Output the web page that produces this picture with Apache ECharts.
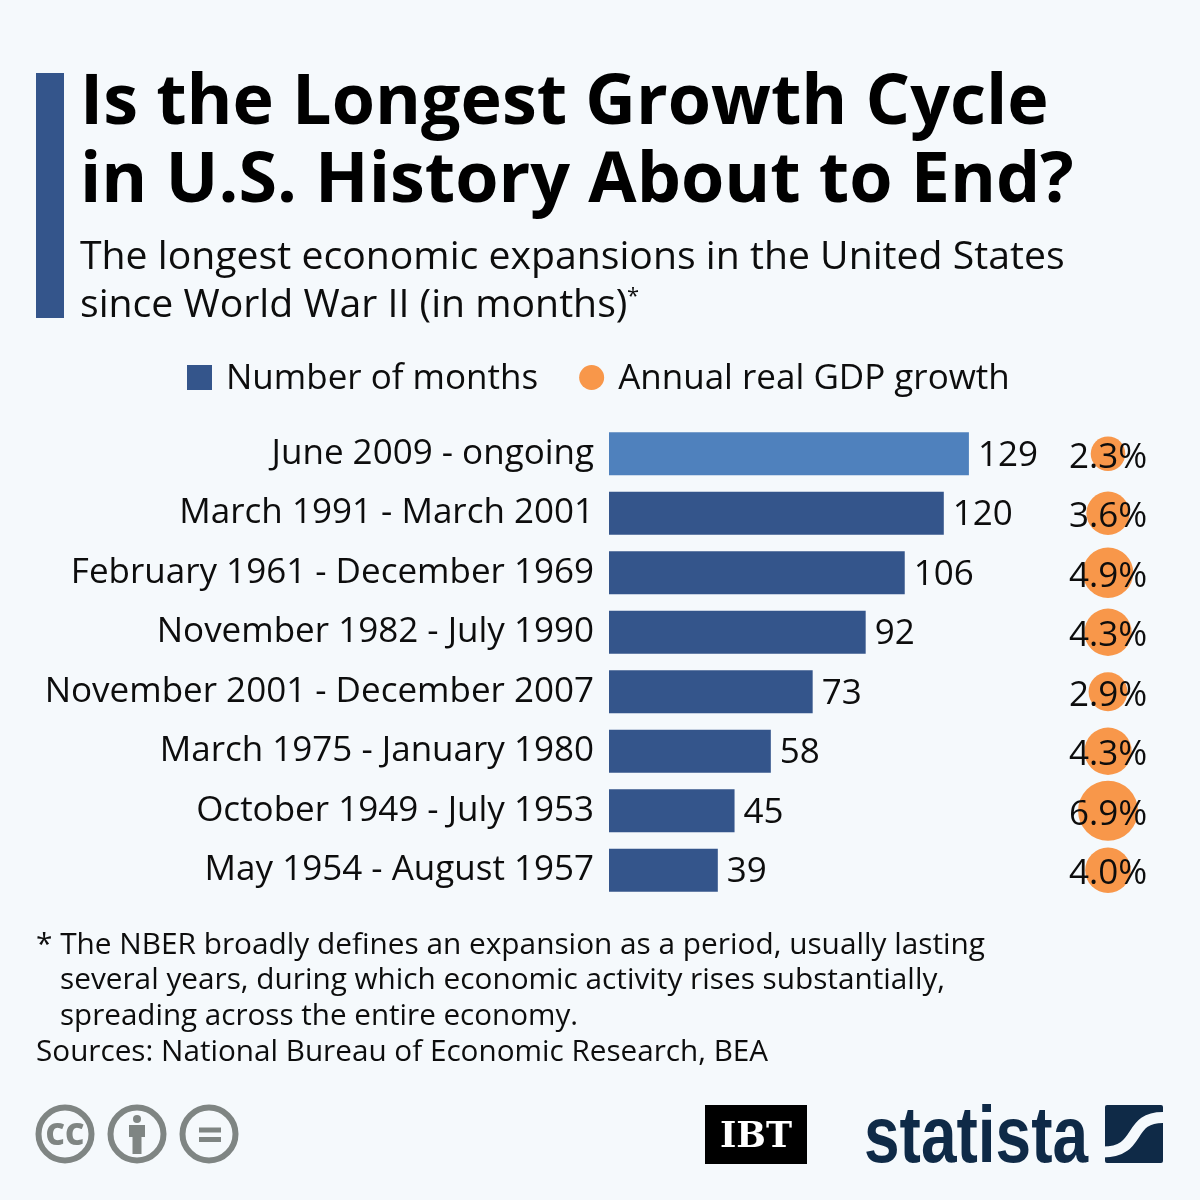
<!DOCTYPE html>
<html><head><meta charset="utf-8">
<style>html,body{margin:0;padding:0;background:#f5f9fc}#c{width:1200px;height:1200px}</style>
<script src="https://cdn.jsdelivr.net/npm/echarts@6/dist/echarts.min.js"></script>
</head><body><div id="c"></div>
<script>
const periods = ["June 2009 - ongoing","March 1991 - March 2001","February 1961 - December 1969","November 1982 - July 1990","November 2001 - December 2007","March 1975 - January 1980","October 1949 - July 1953","May 1954 - August 1957"];
const months = [129,120,106,92,73,58,45,39];
const gdpGrowth = [2.3,3.6,4.9,4.3,2.9,4.3,6.9,4.0];
const titleLines = ["Is the Longest Growth Cycle","in U.S. History About to End?"];
const subtitleLines = ["The longest economic expansions in the United States","since World War II (in months)"];
const footLines = ["* The NBER broadly defines an expansion as a period, usually lasting","several years, during which economic activity rises substantially,","spreading across the entire economy.","Sources: National Bureau of Economic Research, BEA"];
const seriesNames = ["Number of months","Annual real GDP growth"];

const F='"Open Sans"', BG='#f5f9fc', DARK='#34558b', LIGHT='#4f81bd', ORANGE='#f8974a', GREY='#7f8583', NAVY='#0f2a47', INK='#0d0d0d';
const txt=(text,x,y,size,weight,fill)=>({type:'text',silent:true,style:{text,x,y,fill:fill||INK,font:`${weight||400} ${size}px ${F}`,textBaseline:'top'}});
const ring=(cx)=>({type:'circle',shape:{cx,cy:1134,r:26.5},style:{fill:'none',stroke:GREY,lineWidth:6}});
const rect=(x,y,width,height,fill,r)=>({type:'rect',shape:{x,y,width,height,r:r||0},style:{fill}});

const chart=echarts.init(document.getElementById('c'),null,{renderer:'canvas'});
chart.setOption({
  backgroundColor:BG,
  animation:false,
  textStyle:{fontFamily:F},
  legend:{left:187,top:362,padding:0,itemWidth:25,itemHeight:25,itemGap:41,selectedMode:false,
    formatter:'{a|{name}}',
    textStyle:{rich:{a:{fontFamily:F,fontSize:35,color:INK,padding:[4,0,0,9]}}},
    data:[{name:seriesNames[0],icon:'rect'},{name:seriesNames[1],icon:'circle'}]},
  grid:[{left:609,top:424,width:558,height:476},{left:1048,top:424,width:120,height:476}],
  xAxis:[{gridIndex:0,type:'value',min:0,max:200,show:false},
         {gridIndex:1,type:'category',data:['GDP'],show:false}],
  yAxis:[{gridIndex:0,type:'category',inverse:true,data:periods,
          axisLine:{show:false},axisTick:{show:false},
          axisLabel:{fontFamily:F,fontSize:35,color:INK,margin:15,padding:[0,0,5,0]}},
         {gridIndex:1,type:'category',inverse:true,data:periods,show:false}],
  series:[
    {name:seriesNames[0],type:'bar',xAxisIndex:0,yAxisIndex:0,barWidth:43,
     itemStyle:{color:DARK},
     data:months.map((v,i)=>i===0?{value:v,itemStyle:{color:LIGHT}}:v),
     label:{show:true,position:'right',distance:9,fontFamily:F,fontSize:35,color:INK,offset:[0,2]}},
    {name:seriesNames[1],type:'scatter',xAxisIndex:1,yAxisIndex:1,
     symbolSize:d=>22.8*Math.sqrt(d[2]),
     itemStyle:{color:ORANGE,opacity:1},
     data:gdpGrowth.map((v,i)=>[0,i,v]),
     label:{show:true,position:'inside',formatter:p=>p.value[2].toFixed(1)+'%',fontFamily:F,fontSize:35,color:INK,offset:[0,4]}}
  ],
  graphic:{elements:[
    rect(36,73,28,245,DARK),
    txt(titleLines[0],80,69,70,700,'#000'),
    txt(titleLines[1],80,147,70,700,'#000'),
    txt(subtitleLines[0],80,238,39.2),
    txt(subtitleLines[1],80,286,39.2),
    txt('*',627,286,22),
    txt(footLines[0],36,931,29.8),
    txt(footLines[1],60,966,29.75),
    txt(footLines[2],60,1002,29.6),
    txt(footLines[3],36,1038,29.7),
    ring(65),ring(137),ring(209),
    {type:'text',style:{text:'CC',x:65,y:1121,fill:GREY,font:'800 30px "Open Sans"',textAlign:'center',textBaseline:'top'}},
    {type:'circle',shape:{cx:137,cy:1119,r:4},style:{fill:GREY}},
    rect(129,1125,16,12,GREY),
    rect(132.5,1125,9,29,GREY),
    rect(199,1127.5,22,5,GREY),
    rect(199,1137,22,5,GREY),
    rect(705,1105,102,59,'#000'),
    {type:'text',style:{text:'IBT',x:756,y:1120,fill:'#fff',font:'900 35px "DejaVu Serif"',textAlign:'center',textBaseline:'top'}},
    {type:'text',x:864,y:1100,scaleX:0.8,style:{text:'statista',x:0,y:0,fill:NAVY,font:'700 80px "Liberation Sans"',textBaseline:'top'}},
    rect(1105,1105,58,58,NAVY,2),
    {type:'bezierCurve',shape:{x1:1165,y1:1117.5,cpx1:1126,cpy1:1116,cpx2:1143,cpy2:1152,x2:1103,y2:1152},style:{fill:'none',stroke:BG,lineWidth:11}}
  ]}
});
</script></body></html>
